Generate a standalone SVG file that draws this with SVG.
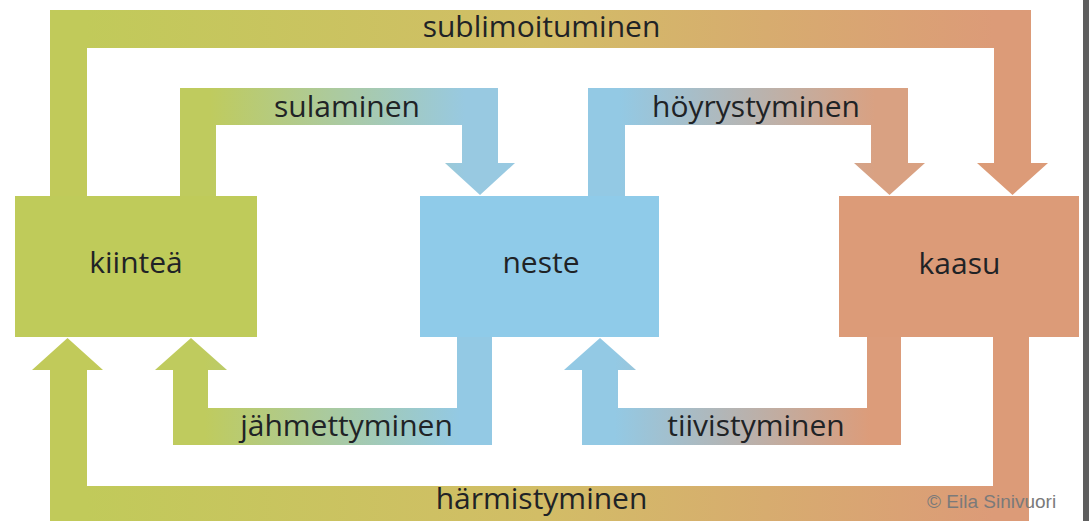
<svg xmlns="http://www.w3.org/2000/svg" width="1089" height="521" viewBox="0 0 1089 521">
  <style>
    .lbl { font-family: "Open Sans", "DejaVu Sans", sans-serif; font-size: 30px; fill: #1f2326; text-anchor: middle; }
    .copy { font-family: "Liberation Sans", Arial, sans-serif; font-size: 19px; fill: #7a7a7a; }
  </style>
  <defs>
    <linearGradient id="gSub" gradientUnits="userSpaceOnUse" x1="87" y1="0" x2="994" y2="0">
      <stop offset="0" stop-color="#c1ca5a"/>
      <stop offset="0.5" stop-color="#d2bd66"/>
      <stop offset="1" stop-color="#dc9b78"/>
    </linearGradient>
    <linearGradient id="gHar" gradientUnits="userSpaceOnUse" x1="87" y1="0" x2="993" y2="0">
      <stop offset="0" stop-color="#c1ca5a"/>
      <stop offset="0.5" stop-color="#d2bd66"/>
      <stop offset="1" stop-color="#dc9b78"/>
    </linearGradient>
    <linearGradient id="gSul" gradientUnits="userSpaceOnUse" x1="210" y1="0" x2="465" y2="0">
      <stop offset="0" stop-color="#bfcb5e"/>
      <stop offset="1" stop-color="#98c9e1"/>
    </linearGradient>
    <linearGradient id="gJah" gradientUnits="userSpaceOnUse" x1="205" y1="0" x2="460" y2="0">
      <stop offset="0" stop-color="#bfcb5e"/>
      <stop offset="1" stop-color="#93c9e4"/>
    </linearGradient>
    <linearGradient id="gHoy" gradientUnits="userSpaceOnUse" x1="620" y1="0" x2="875" y2="0">
      <stop offset="0" stop-color="#93c9e4"/>
      <stop offset="1" stop-color="#d9a182"/>
    </linearGradient>
    <linearGradient id="gTii" gradientUnits="userSpaceOnUse" x1="615" y1="0" x2="870" y2="0">
      <stop offset="0" stop-color="#93c9e4"/>
      <stop offset="1" stop-color="#dc9c7a"/>
    </linearGradient>
  </defs>

  <rect x="0" y="0" width="1089" height="521" fill="#ffffff"/>

  <g id="connectors">
    <!-- sublimoituminen: kiinteä -> kaasu (top) -->
    <polygon id="c-sublimoituminen" fill="url(#gSub)" points="50,196 50,10 1031,10 1031,163 1048,163 1012.5,195 977,163 994,163 994,48 87,48 87,196"/>
    <!-- sulaminen: kiinteä -> neste -->
    <polygon id="c-sulaminen" fill="url(#gSul)" points="180,196 180,88 498,88 498,163 515,163 480,195 445,163 462,163 462,125 216,125 216,196"/>
    <!-- höyrystyminen: neste -> kaasu -->
    <polygon id="c-hoyrystyminen" fill="url(#gHoy)" points="588,196 588,88 908,88 908,163 925,163 889.5,195 854,163 871,163 871,125 625,125 625,196"/>
    <!-- jähmettyminen: neste -> kiinteä -->
    <polygon id="c-jahmettyminen" fill="url(#gJah)" points="492,337 492,445 173,445 173,370 155,370 191,338 227,370 208,370 208,408 457,408 457,337"/>
    <!-- tiivistyminen: kaasu -> neste -->
    <polygon id="c-tiivistyminen" fill="url(#gTii)" points="901,337 901,445 582,445 582,370 564,370 600,338 636,370 618,370 618,408 867,408 867,337"/>
    <!-- härmistyminen: kaasu -> kiinteä (bottom) -->
    <polygon id="c-harmistyminen" fill="url(#gHar)" points="1029,337 1029,521 50,521 50,370 32,370 67.5,338 103,370 87,370 87,486 993,486 993,337"/>

    <text class="lbl" x="541.5" y="37">sublimoituminen</text>
    <text class="lbl" x="347" y="117">sulaminen</text>
    <text class="lbl" x="756" y="117">höyrystyminen</text>
    <text class="lbl" x="346.5" y="436">jähmettyminen</text>
    <text class="lbl" x="756" y="436">tiivistyminen</text>
    <text class="lbl" x="541.5" y="509">härmistyminen</text>
  </g>

  <g id="kiintea">
    <rect x="15" y="196" width="242" height="141" fill="#bfcb5a"/>
    <text class="lbl" x="136" y="273">kiinteä</text>
  </g>
  <g id="neste">
    <rect x="420" y="196" width="239" height="141" fill="#8fcbe9"/>
    <text class="lbl" x="541" y="273">neste</text>
  </g>
  <g id="kaasu">
    <rect x="839" y="196" width="240" height="141" fill="#dc9b78"/>
    <text class="lbl" x="959.5" y="274">kaasu</text>
  </g>

  <text class="copy" x="927" y="508">© Eila Sinivuori</text>
  <rect x="1083" y="0" width="6" height="521" fill="#5e5e5e"/>
</svg>
